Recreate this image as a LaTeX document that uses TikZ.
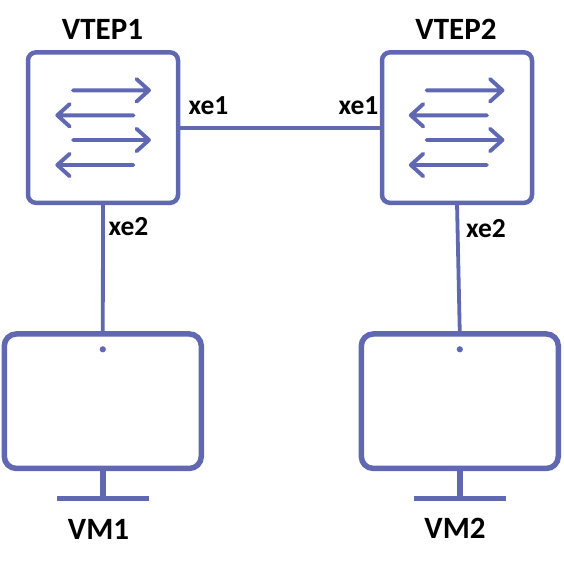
\documentclass[tikz,border=0pt]{standalone}
\usepackage{fontspec}
\setmainfont{Carlito}
\definecolor{icon}{HTML}{6068B2}
\tikzset{
  switchbox/.style={draw=icon,line width=4.5pt,rounded corners=8pt,minimum width=150pt,minimum height=150.5pt,outer sep=0pt,inner sep=0pt},
  screenbox/.style={draw=icon,line width=5.5pt,rounded corners=12pt,minimum width=197pt,minimum height=134.5pt,outer sep=0pt,inner sep=0pt},
  link/.style={draw=icon,line width=3.8pt},
  flow/.style={draw=icon,line width=3.9pt,line cap=round,line join=round},
  stand/.style={draw=icon,line width=5.5pt},
  title/.style={font=\bfseries\fontsize{31}{33}\selectfont,text=black,inner sep=0pt},
  port/.style={font=\bfseries\fontsize{27.5}{29}\selectfont,text=black,inner sep=0pt}
}
\begin{document}
\begin{tikzpicture}[x=1pt,y=-1pt]
\useasboundingbox (0,0) rectangle (563,565);
\node[switchbox] (sw1) at (103,127.6) {};
\node[switchbox] (sw2) at (457,127.6) {};
\node[screenbox] (mon1) at (102.8,401.2) {};
\node[screenbox] (mon2) at (459.8,401.2) {};
\draw[link] (sw1.east) -- (sw2.west);
\draw[link] (sw1.south) -- (mon1.north);
\draw[link] (sw2.south) -- (mon2.north);
\foreach \s/\dx in {sw1/0,sw2/353.5}{
  \begin{scope}[xshift=\dx pt]
    \draw[flow] (73,90.3) -- (149,90.3) (136.5,79) -- (149,90.3) -- (136.5,101.6);
    \draw[flow] (133.5,115.3) -- (57.3,115.3) (69.8,104) -- (57.3,115.3) -- (69.8,126.6);
    \draw[flow] (73,140) -- (149,140) (136.5,128.7) -- (149,140) -- (136.5,151.3);
    \draw[flow] (133.5,165) -- (57.3,165) (69.8,153.7) -- (57.3,165) -- (69.8,176.3);
  \end{scope}
}
\foreach \m/\x in {mon1/102.8,mon2/459.8}{
  \fill[icon] (\x,349.3) circle (3.1pt);
  \coordinate (\m base) at (\x,498.7);
  \draw[stand] (\m.south) -- (\m base);
  \draw[stand] ([xshift=-46pt]\m base) -- ([xshift=46pt]\m base);
}
\node[title] (t1) at (102.5,29) {VTEP1};
\node[title] (t2) at (456,29) {VTEP2};
\node[title] (t3) at (98.5,529.5) {VM1};
\node[title] (t4) at (455,528.5) {VM2};
\node[port] (p1) at (208.5,105.5) {xe1};
\node[port] (p2) at (358.5,105.5) {xe1};
\node[port] (p3) at (128.5,226.5) {xe2};
\node[port] (p4) at (486,229) {xe2};
\end{tikzpicture}
\end{document}
